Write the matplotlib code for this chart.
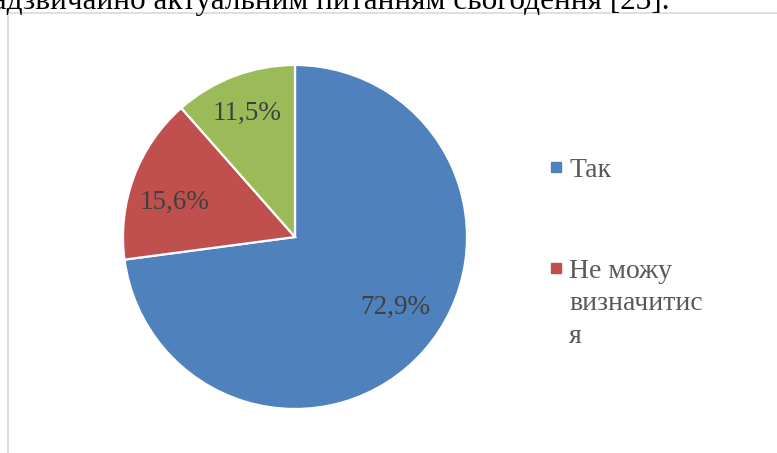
import matplotlib
matplotlib.use("Agg")
import matplotlib.pyplot as plt
from matplotlib.patches import Rectangle
import numpy as np

# survey answers (share of respondents, %)
labels = ["Так", "Не можу\nвизначитис\nя", ""]
values = [72.9, 15.6, 11.5]
colors = ["#4F81BD", "#C0504D", "#9BBB59"]
legend_items = 2  # the third entry is cut off in the original chart

page_text = "надзвичайно актуальним питанням сьогодення [23]."

W, H = 777, 453
plt.rcParams["font.family"] = ["Liberation Serif", "DejaVu Serif"]

fig = plt.figure(figsize=(W / 100, H / 100), dpi=100)

# chart frame (only left and top edges are visible)
fig.add_artist(Rectangle((7.5 / W, -0.2), 1.2, 1.2 - 12.5 / H,
                         transform=fig.transFigure, fill=False,
                         edgecolor="#D9D9D9", linewidth=1.2, clip_on=False))

# line of the document text above the chart, clipped by the image top
fig.text(670 / W, 1 - 9 / H, page_text, ha="right", va="baseline",
         fontsize=22.5, color="black")

# pie axes: center (295, 237) px, radius 172 px
cx, cy, r = 295, 237, 172
ax = fig.add_axes([(cx - r) / W, (H - cy - r) / H, 2 * r / W, 2 * r / H])
wedges, texts, autotexts = ax.pie(
    values, colors=colors, startangle=90, counterclock=False, radius=1,
    autopct=lambda p: f"{p:.1f}%".replace(".", ","), pctdistance=0.73,
    wedgeprops=dict(edgecolor="white", linewidth=1.6),
    textprops=dict(fontsize=19.5, color="#404040"))
ax.set_xlim(-1, 1)
ax.set_ylim(-1, 1)
ax.set_aspect("equal")
ax.axis("off")

# Excel "best fit" label placement (angle in degrees, radius)
label_place = [(-35, 0.715), (164, 0.73), (111, 0.77)]
for t, (a, rr) in zip(autotexts, label_place):
    t.set_position((rr * np.cos(np.radians(a)), rr * np.sin(np.radians(a))))
    t.set_va("center")

# legend drawn by hand so the marker sits on the first text line
row_top = [167, 268]
line_h = 32.5
for i in range(legend_items):
    y = row_top[i]
    fig.add_artist(Rectangle(((551) / W, 1 - (y + 5) / H), 10 / W, 10 / H,
                             transform=fig.transFigure, color=colors[i]))
    for j, line in enumerate(labels[i].split("\n")):
        fig.text(569 / W, 1 - (y + 10 + j * line_h) / H, line,
                 ha="left", va="baseline", fontsize=20, color="#595959")

fig.savefig("out.png", dpi=100)
